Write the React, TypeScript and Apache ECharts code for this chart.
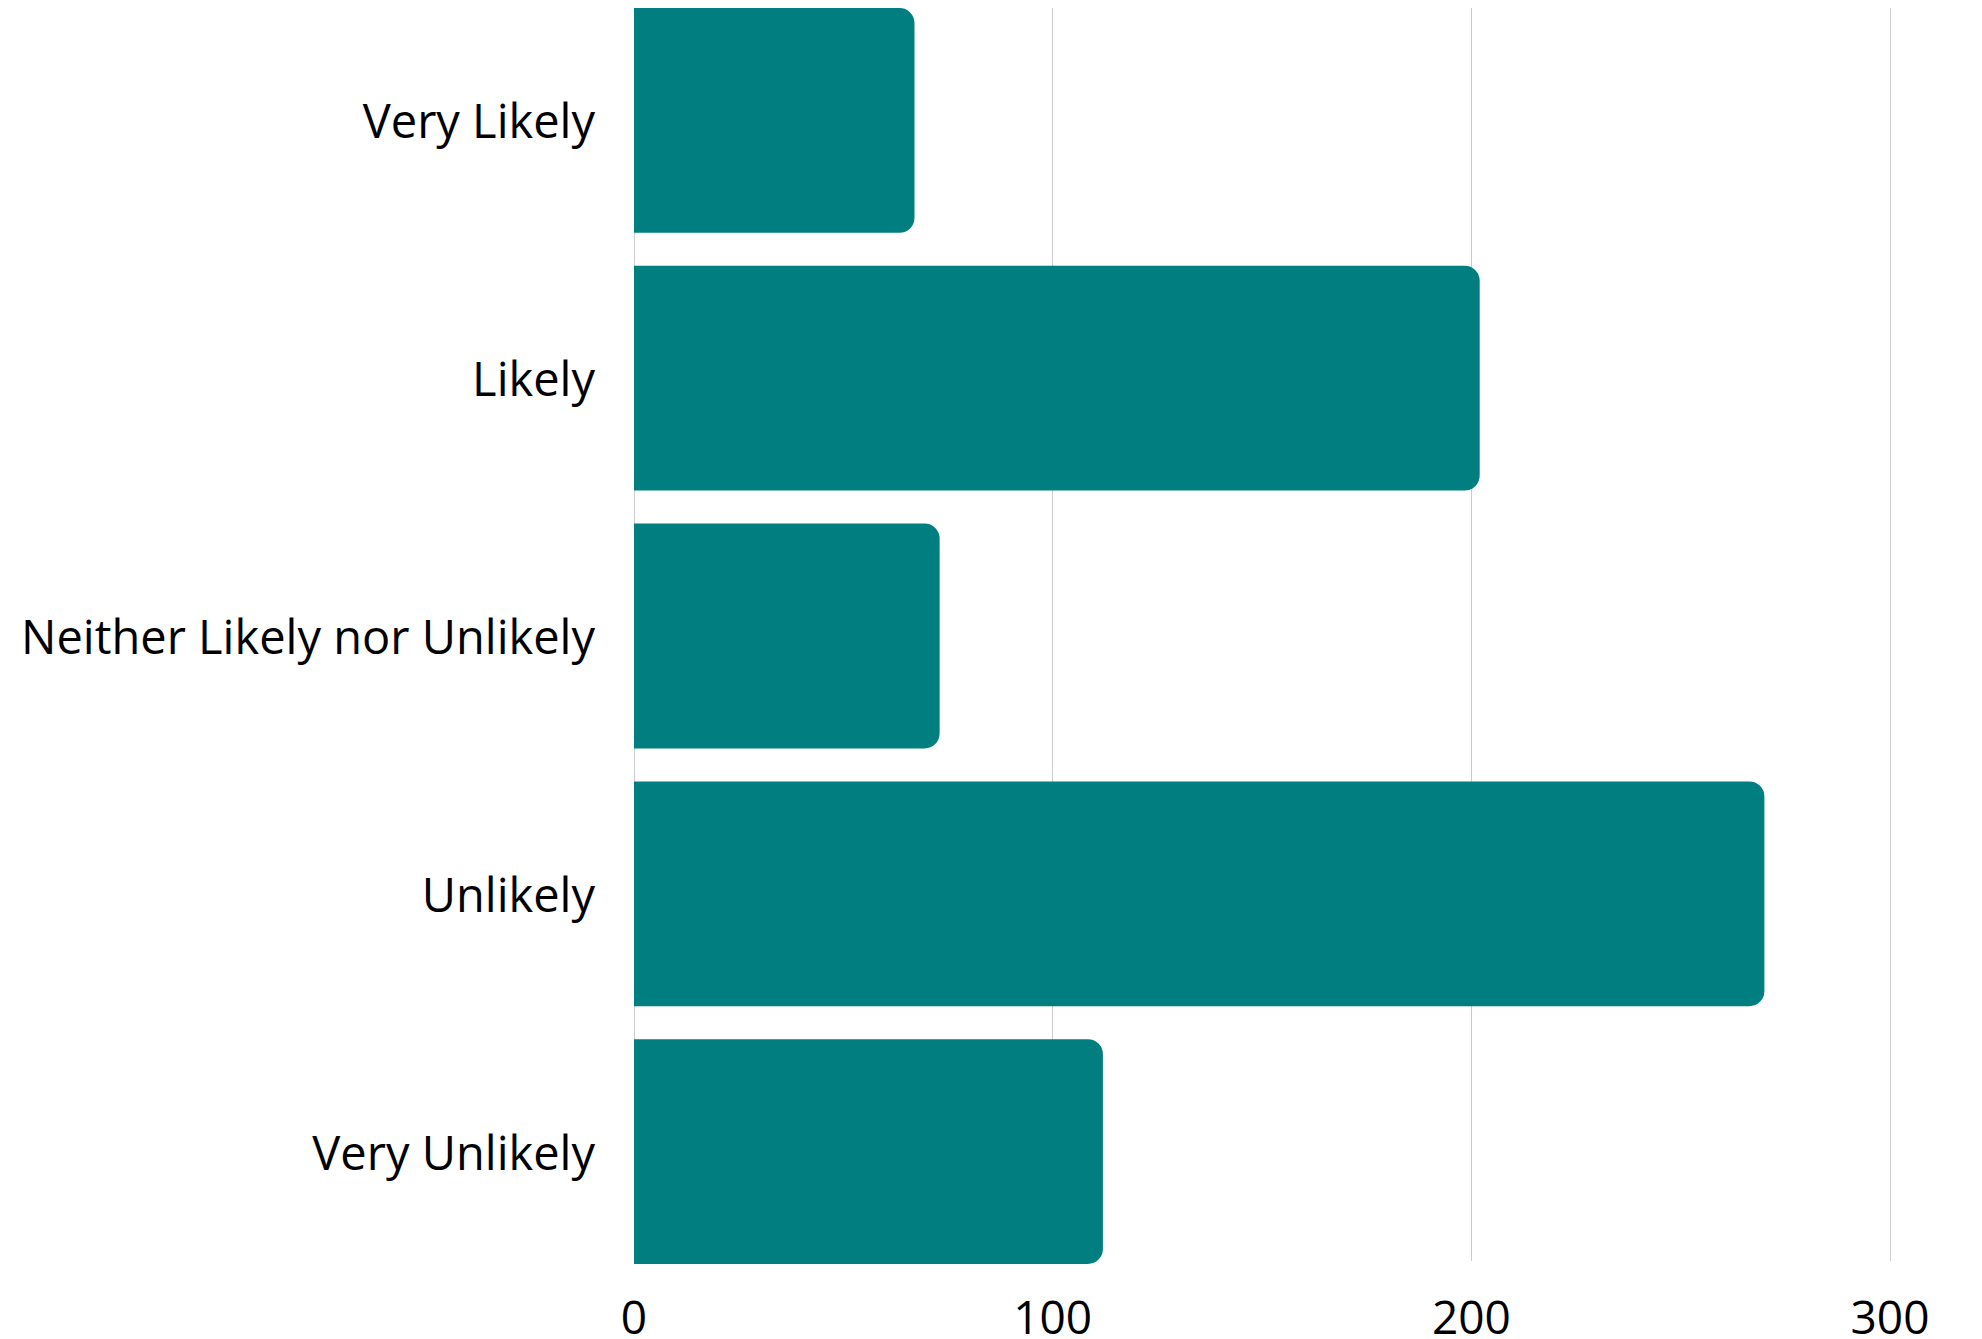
import React, { useEffect, useRef } from "react";
import * as echarts from "echarts";

const categories = [
  "Very Likely",
  "Likely",
  "Neither Likely nor Unlikely",
  "Unlikely",
  "Very Unlikely",
];
const counts = [67, 202, 73, 270, 112];
const tickValues = { min: 0, max: 300, interval: 100 };

const BAR_COLOR = "#017f80";
const FONT = "'Open Sans', Lato, sans-serif";
// The canvas is raised by this much so the bar bands can start above the gridlines.
const SHIFT = 20;

export default function App() {
  const ref = useRef<HTMLDivElement>(null);

  useEffect(() => {
    if (!ref.current) return;
    const chart = echarts.init(ref.current, undefined, { renderer: "svg" });
    chart.setOption({
      animation: false,
      backgroundColor: "#ffffff",
      grid: [
        // gridlines + value labels
        { left: 634, right: 92, top: 8 + SHIFT, bottom: 75 },
        // bars + category labels (bands reach the gridline ends)
        { left: 634, right: 92, top: -8.5 + SHIFT, bottom: 58.5 },
      ],
      xAxis: [
        {
          type: "value",
          gridIndex: 0,
          min: tickValues.min,
          max: tickValues.max,
          interval: tickValues.interval,
          axisLine: { show: false },
          axisTick: { show: false },
          splitLine: { show: true, lineStyle: { color: "#cccccc", width: 1 } },
          axisLabel: {
            color: "#000000",
            fontFamily: FONT,
            fontSize: 46,
            lineHeight: 30,
            margin: 40,
          },
        },
        {
          type: "value",
          gridIndex: 1,
          min: tickValues.min,
          max: tickValues.max,
          interval: tickValues.interval,
          show: false,
          splitLine: { show: false },
        },
      ],
      yAxis: [
        {
          type: "category",
          gridIndex: 0,
          data: categories,
          inverse: true,
          show: false,
        },
        {
          type: "category",
          gridIndex: 1,
          data: categories,
          inverse: true,
          axisLine: { show: false },
          axisTick: { show: false },
          splitLine: { show: false },
          axisLabel: {
            color: "#000000",
            fontFamily: FONT,
            fontSize: 47,
            margin: 39,
          },
        },
      ],
      series: [
        {
          type: "bar",
          xAxisIndex: 1,
          yAxisIndex: 1,
          data: counts,
          barCategoryGap: "12.8%",
          itemStyle: { color: BAR_COLOR, borderRadius: [0, 15, 15, 0] },
        },
      ],
    });
    return () => chart.dispose();
  }, []);

  return (
    <div
      ref={ref}
      style={{
        position: "fixed",
        left: 0,
        top: -SHIFT,
        width: 1982,
        height: 1339 + SHIFT,
      }}
    />
  );
}
